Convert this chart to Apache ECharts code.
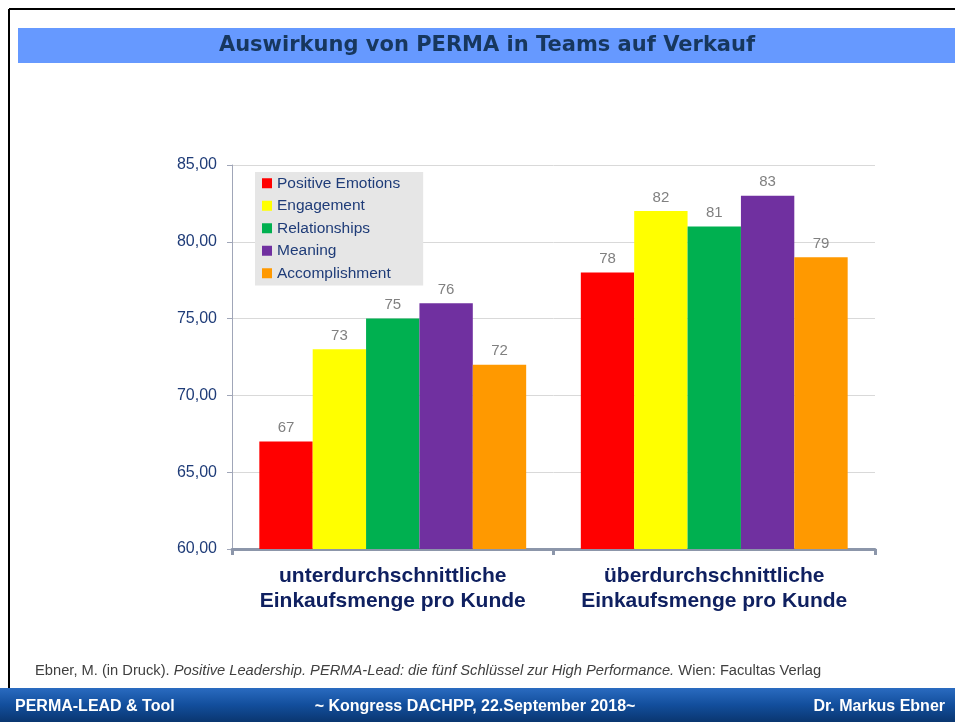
<!DOCTYPE html>
<html>
<head>
<meta charset="utf-8">
<script src="https://cdn.jsdelivr.net/npm/echarts@6/dist/echarts.min.js"></script>
<style>
  html, body { margin: 0; padding: 0; background: #fff; }
  #chart { width: 955px; height: 722px; }
</style>
</head>
<body>
<div id="chart"></div>
<script>
// Kategorien und Werte
const categories = ['unterdurchschnittliche\nEinkaufsmenge pro Kunde', 'überdurchschnittliche\nEinkaufsmenge pro Kunde'];
const seriesNames = ['Positive Emotions', 'Engagement', 'Relationships', 'Meaning', 'Accomplishment'];
const positiveEmotions = [67, 78];
const engagement = [73, 82];
const relationships = [75, 81];
const meaning = [76, 83];
const accomplishment = [72, 79];
const seriesColors = ['#FF0000', '#FFFF00', '#00B050', '#7030A0', '#FF9900'];

const values = [positiveEmotions, engagement, relationships, meaning, accomplishment];
const font = 'Arial, "Liberation Sans", sans-serif';

const chart = echarts.init(document.getElementById('chart'));

chart.setOption({
  animation: false,
  textStyle: { fontFamily: font },
  graphic: [
    // Rahmen
    { type: 'line', shape: { x1: 9, y1: 9, x2: 955, y2: 9 }, style: { stroke: '#000', lineWidth: 2 } },
    { type: 'line', shape: { x1: 9, y1: 9, x2: 9, y2: 690 }, style: { stroke: '#000', lineWidth: 2 } },
    // Titelbalken
    { type: 'rect', shape: { x: 18, y: 28, width: 937, height: 35 }, style: { fill: '#6699FF' } },
    {
      type: 'text', x: 487, y: 46,
      style: {
        text: 'Auswirkung von PERMA in Teams auf Verkauf',
        fill: '#17375E', font: 'bold 21px "DejaVu Sans", Verdana, sans-serif',
        align: 'center', verticalAlign: 'middle'
      }
    },
    // Quelle
    {
      type: 'text', x: 35, y: 671,
      style: {
        rich: {
          n: { fill: '#404040', fontSize: 14.7, fontFamily: font },
          i: { fill: '#404040', fontSize: 14.7, fontFamily: font, fontStyle: 'italic' }
        },
        text: '{n|Ebner, M. (in Druck). }{i|Positive Leadership. PERMA-Lead: die fünf Schlüssel zur High Performance.}{n| Wien: Facultas Verlag}',
        verticalAlign: 'middle'
      }
    },
    // Fußzeile
    {
      type: 'rect', shape: { x: 0, y: 688, width: 955, height: 34 },
      style: {
        fill: new echarts.graphic.LinearGradient(0, 0, 0, 1, [
          { offset: 0, color: '#2A6BC0' },
          { offset: 0.5, color: '#124E9C' },
          { offset: 1, color: '#0A3670' }
        ])
      }
    },
    {
      type: 'text', x: 15, y: 707,
      style: { text: 'PERMA-LEAD & Tool', fill: '#fff', font: 'bold 16px ' + font, verticalAlign: 'middle' }
    },
    {
      type: 'text', x: 475, y: 707,
      style: { text: '~ Kongress DACHPP, 22.September 2018~', fill: '#fff', font: 'bold 16px ' + font, align: 'center', verticalAlign: 'middle' }
    },
    {
      type: 'text', x: 945, y: 707,
      style: { text: 'Dr. Markus Ebner', fill: '#fff', font: 'bold 16px ' + font, align: 'right', verticalAlign: 'middle' }
    }
  ],
  legend: {
    data: seriesNames,
    orient: 'vertical',
    left: 255,
    top: 172,
    backgroundColor: '#E6E6E6',
    padding: [3, 23, 4, 7],
    itemWidth: 10,
    itemHeight: 10,
    itemGap: 6,
    icon: 'rect',
    textStyle: { color: '#1F3C78', fontSize: 15.5, lineHeight: 16.5, fontFamily: font }
  },
  grid: { left: 232, right: 80, top: 165, bottom: 173, containLabel: false },
  xAxis: {
    type: 'category',
    data: categories,
    axisLine: { lineStyle: { color: '#8C96AA', width: 3 } },
    axisTick: { show: true, interval: 0, length: 6, lineStyle: { color: '#8C96AA', width: 3 } },
    axisLabel: {
      interval: 0,
      color: '#0F2060', fontSize: 21, fontWeight: 'bold', lineHeight: 25, margin: 15, fontFamily: font
    }
  },
  yAxis: {
    type: 'value',
    min: 60,
    max: 85,
    interval: 5,
    axisLine: { show: true, lineStyle: { color: '#A0A6B8', width: 1 } },
    axisTick: { show: true, length: 5, lineStyle: { color: '#A0A6B8' } },
    splitLine: { lineStyle: { color: '#D9D9D9', width: 1 } },
    axisLabel: {
      color: '#1F3C78', fontSize: 16, margin: 15, fontFamily: font,
      formatter: v => v.toFixed(2).replace('.', ',')
    }
  },
  series: seriesNames.map((name, i) => ({
    name,
    type: 'bar',
    data: values[i],
    barGap: '0%',
    barCategoryGap: '17%',
    itemStyle: { color: seriesColors[i] },
    label: { show: true, position: 'top', color: '#808080', fontSize: 15, distance: 6, fontFamily: font }
  }))
});
</script>
</body>
</html>
